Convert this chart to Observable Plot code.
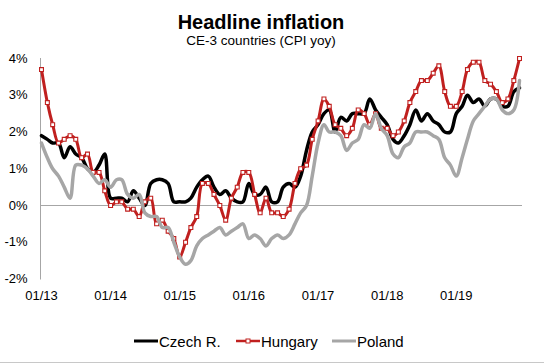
<!DOCTYPE html>
<html><head><meta charset="utf-8">
<script src="https://cdn.jsdelivr.net/npm/d3@7"></script>
<script src="https://cdn.jsdelivr.net/npm/@observablehq/plot@0.6"></script>
<style>
body{margin:0;background:#fff;font-family:"Liberation Sans",Arial,sans-serif;color:#000;}
#wrap{position:relative;width:544px;height:364px;overflow:hidden;background:#fff;}
#title{position:absolute;left:0;width:522px;top:12.5px;text-align:center;font-size:20px;line-height:18px;font-weight:bold;}
#subtitle{position:absolute;left:0;width:522px;top:34.5px;text-align:center;font-size:13.5px;line-height:12px;}
#chart{position:absolute;left:0;top:0;}
#legend{position:absolute;left:0;top:0;width:544px;height:364px;pointer-events:none;}
.lg-text{position:absolute;font-size:15px;line-height:15px;top:333.5px;white-space:nowrap;}
.lg-sample{position:absolute;top:335px;}
#bottomline{position:absolute;left:0;top:362px;width:544px;height:0;border-top:1px solid #c8c8c8;}
</style></head><body>
<div id="wrap">
  <div id="chart"></div>
  <div id="title">Headline inflation</div>
  <div id="subtitle">CE-3 countries (CPI yoy)</div>
  <div id="legend"></div>
  <div id="bottomline"></div>
</div>
<script>
// Monthly CPI yoy (%), Jan 2013 – Dec 2019
const czech = [
  1.9,1.8,1.7,1.7,1.3,1.6,1.4,1.3,1.0,0.9,1.1,1.4,
  0.2,0.2,0.2,0.1,0.4,0.2,0.0,0.6,0.7,0.7,0.6,0.1,
  0.1,0.1,0.2,0.5,0.7,0.8,0.5,0.3,0.4,0.2,0.1,0.1,
  0.6,0.3,0.3,0.5,0.1,0.1,0.5,0.6,0.5,0.8,1.5,2.0,
  2.2,2.5,2.6,2.0,2.4,2.3,2.5,2.5,2.5,2.9,2.6,2.4,
  2.2,1.8,1.7,1.9,2.2,2.6,2.3,2.5,2.3,2.2,2.0,2.0,
  2.5,2.7,3.0,2.8,2.9,2.7,2.9,2.9,2.7,2.7,3.1,3.2
];
const hungary = [
  3.7,2.8,2.2,1.7,1.8,1.9,1.8,1.3,1.4,0.9,0.9,0.4,
  0.0,0.1,0.1,-0.1,-0.1,-0.3,0.1,0.2,-0.5,-0.4,-0.7,-0.9,
  -1.4,-1.0,-0.6,-0.3,0.6,0.6,0.3,0.0,-0.4,0.2,0.5,0.9,
  0.9,0.3,-0.2,0.2,-0.2,-0.2,-0.3,-0.1,0.6,1.0,1.1,1.8,
  2.3,2.9,2.7,2.2,2.1,1.9,2.1,2.6,2.5,2.2,2.5,2.1,
  2.1,1.9,2.0,2.3,2.8,3.1,3.4,3.4,3.6,3.8,3.1,2.7,
  2.7,3.1,3.7,3.9,3.9,3.4,3.3,3.1,2.8,2.9,3.4,4.0
];
const poland = [
  1.7,1.3,1.0,0.8,0.5,0.2,1.1,1.1,1.0,0.8,0.6,0.7,
  0.5,0.7,0.7,0.3,0.2,0.3,-0.2,-0.3,-0.3,-0.6,-0.6,-1.0,
  -1.4,-1.6,-1.5,-1.1,-0.9,-0.8,-0.7,-0.6,-0.8,-0.7,-0.6,-0.5,
  -0.9,-0.8,-0.9,-1.1,-0.9,-0.8,-0.9,-0.8,-0.5,-0.2,0.0,0.8,
  1.7,2.2,2.0,2.0,1.9,1.5,1.7,1.8,2.2,2.1,2.5,2.1,
  1.9,1.4,1.3,1.6,1.7,2.0,2.0,2.0,1.9,1.8,1.3,1.1,
  0.8,1.3,1.8,2.3,2.5,2.7,2.9,2.9,2.6,2.5,2.6,3.4
];
const seriesNames = ["Czech R.", "Hungary", "Poland"];
const seriesColors = ["#000000", "#C0201F", "#A6A6A6"];
const seriesWidths = [3.5, 3, 3.5];
const yTicks = [-2, -1, 0, 1, 2, 3, 4];
const xTickLabels = ["01/13", "01/14", "01/15", "01/16", "01/17", "01/18", "01/19"];

const dates = czech.map((_, i) => new Date(2013, i, 1));
const seriesValues = [czech, hungary, poland];
const rows = seriesNames.map((name, s) =>
  seriesValues[s].map((v, i) => ({series: name, date: dates[i], value: v}))
);
const xTicks = xTickLabels.map((_, k) => new Date(2013 + k, 0, 1));

const font = '"Liberation Sans", Arial, sans-serif';
const marks = [
  Plot.ruleY([0], {stroke: "#a6a6a6", strokeWidth: 1}),
  Plot.frame({anchor: "left", stroke: "#a6a6a6", strokeWidth: 1}),
  Plot.axisY({ticks: yTicks, tickFormat: d => `${d}%`, tickSize: 0, tickPadding: 13, label: null, fontSize: 13}),
  Plot.axisX({ticks: xTicks, tickFormat: d => xTickLabels[d.getFullYear() - 2013], tickSize: 0, tickPadding: 12, label: null, fontSize: 13})
];
seriesNames.forEach((name, s) => {
  marks.push(Plot.lineY(rows[s], {x: "date", y: "value", stroke: seriesColors[s], strokeWidth: seriesWidths[s], curve: "catmull-rom", strokeLinejoin: "round", strokeLinecap: "round"}));
  if (name === "Hungary") {
    marks.push(Plot.dot(rows[s], {x: "date", y: "value", symbol: "square", r: 2.2, fill: "#fff", stroke: seriesColors[s], strokeWidth: 1.1}));
  }
});

const chart = Plot.plot({
  width: 544,
  height: 310,
  marginLeft: 40,
  marginRight: 22,
  marginTop: 58,
  marginBottom: 31.5,
  style: {fontFamily: font, fontSize: "13px", color: "#000", background: "transparent", overflow: "visible"},
  x: {type: "time", domain: [dates[0], dates[dates.length - 1]], range: [41, 519]},
  y: {domain: [-2, 4]},
  marks
});
document.getElementById("chart").appendChild(chart);

// Legend
const legend = document.getElementById("legend");
const sampleLeft = [133, 235, 331];
const textLeft = [159, 261, 357];
seriesNames.forEach((name, s) => {
  const svg = d3.create("svg").attr("class", "lg-sample").attr("width", 26).attr("height", 12)
    .style("left", `${sampleLeft[s]}px`);
  svg.append("line").attr("x1", 1).attr("x2", 25).attr("y1", 6).attr("y2", 6)
    .attr("stroke", seriesColors[s]).attr("stroke-width", seriesWidths[s] - 0.5);
  if (name === "Hungary") {
    svg.append("rect").attr("x", 11).attr("y", 4).attr("width", 4).attr("height", 4)
      .attr("fill", "#fff").attr("stroke", seriesColors[s]).attr("stroke-width", 1);
  }
  legend.appendChild(svg.node());
  const t = document.createElement("div");
  t.className = "lg-text";
  t.style.left = `${textLeft[s]}px`;
  t.textContent = name;
  legend.appendChild(t);
});
</script>
</body></html>
